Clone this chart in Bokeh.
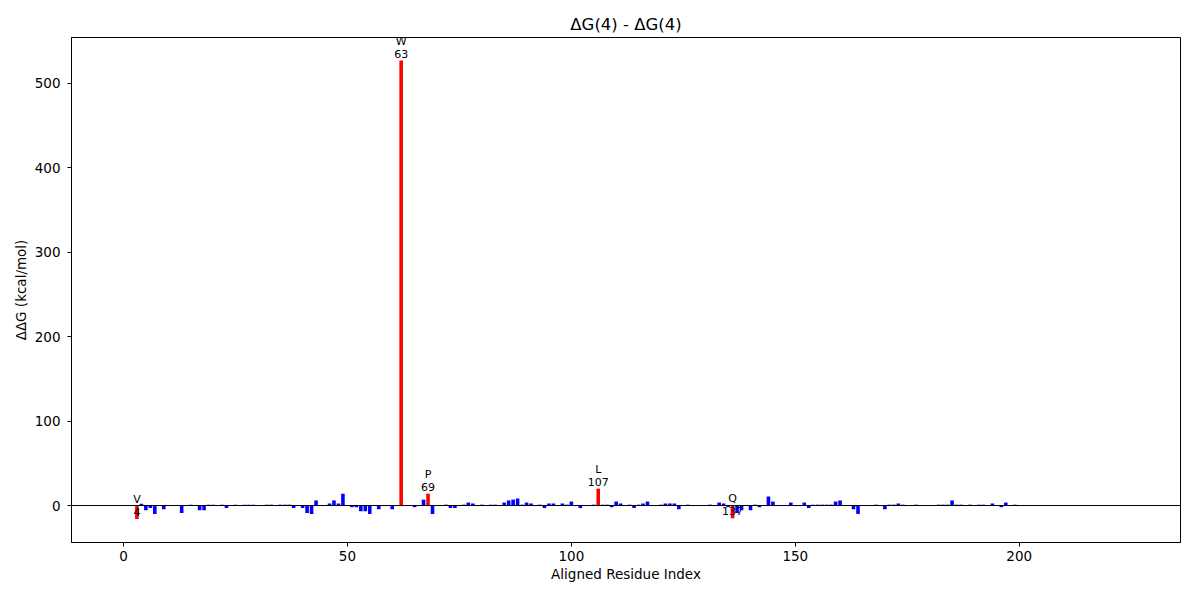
from bokeh.plotting import figure
from bokeh.models import ColumnDataSource, FixedTicker, Span, Range1d
from bokeh.embed import file_html
from bokeh.resources import INLINE
from bokeh.core.properties import value

# ---------------- data ----------------
ddg_values = [
    0, 0, 0, -16, 2, -5.5, -3, -10, 0, -4.3,          # 0-9
    0, 0, 0, -9, 0, 1, 0, -5.5, -5.5, 1,              # 10-19
    1, 0, 1, -3, 0, 1, 0, 1, 1, 1,                    # 20-29
    0, 0, 1, 1, 0, 1, 1, 1, -3, 0,                    # 30-39
    -3, -9, -10, 6, 0, 0, 2.4, 6, 2.4, 14,            # 40-49
    0, -2, -2, -6.7, -6.7, -10, 0, -4.3, 0, 0,        # 50-59
    -4.3, 0, 527, 0, 0, -2, 0, 7, 14, -10,            # 60-69
    0, 0, 1, -3, -3, 0, 1, 3.5, 2.4, 0,               # 70-79
    1, 0, 1, 1, 0, 3.5, 6, 7, 8.3, 1,                 # 80-89
    3.5, 2.4, 0, 1, -3, 2.4, 2.4, 0, 2.4, 1,          # 90-99
    4.7, 0, -3, 0, 0, 1, 20, 1, 1, -2,                # 100-109
    4.7, 2.4, 0, 1, -3, 1, 2.4, 4.7, 0, 0,            # 110-119
    1, 2.4, 2.4, 2.4, -4.3, 0, 1, 0, 0, 0,            # 120-129
    0, 1, 0, 3.5, 2.4, -2, -15, -9, -5.5, 0,          # 130-139
    -5.5, 1, -2, 0, 10.7, 4.7, 0, 0, 0, 3.5,          # 140-149
    0, 0, 3.5, -3, 1, 1, 1, 1, 1, 4.7,                # 150-159
    6, 0, 0, -4.3, -10, 0, 0, 0, 1, 0,                # 160-169
    -4.3, 1, 1, 2.4, 1, 0, 0, 1, 0, 0,                # 170-179
    0, 0, 1, 1, 1, 6, 1, 1, 0, 1,                     # 180-189
    0, 1, 1, 0, 2.4, 0, -2, 3.5, 0, 1,                # 190-199
    0, 0, 0, 0, 0, 0, 0, 0, 0, 0,                     # 200-209
    0, 0, 0, 0, 0, 0, 0, 0, 0, 0,                     # 210-219
    0, 0, 0, 0, 0,                                    # 220-224
]
residue_index = list(range(len(ddg_values)))

highlight_index = [3, 62, 68, 106, 136]
highlight_residue = ["V", "W", "P", "L", "Q"]
highlight_number = [4, 63, 69, 107, 137]

x_ticks = [0, 50, 100, 150, 200]
y_ticks = [0, 100, 200, 300, 400, 500]

# ---------------- figure ----------------
FONT = "DejaVu Sans"
colors = ["#ff0000" if i in highlight_index else "#0000ff" for i in residue_index]
bar_src = ColumnDataSource(dict(x=residue_index, top=ddg_values, color=colors))

p = figure(width=1184, height=584, output_backend="svg", toolbar_location=None,
           title="ΔG(4) - ΔG(4)",
           x_range=Range1d(-11.6, 236.0), y_range=Range1d(-43.8, 554.3),
           min_border_left=71, min_border_right=4, min_border_top=37, min_border_bottom=42)

p.vbar(x="x", top="top", bottom=0, width=0.8, fill_color="color", line_color=None, source=bar_src)

p.add_layout(Span(location=0, dimension="width", line_color="black", line_width=1))

lbl_x = highlight_index
lbl_y = [ddg_values[i] for i in highlight_index]
lbl_t = [f"{r}\n{n}" for r, n in zip(highlight_residue, highlight_number)]
lbl_src = ColumnDataSource(dict(x=lbl_x, y=lbl_y, t=lbl_t))
p.text(x="x", y="y", text="t", source=lbl_src, text_align="center", text_baseline="bottom",
       text_font=value(FONT), text_font_size="11px", text_color="black", text_line_height=1.0)

p.title.align = "center"
p.title.text_font = FONT
p.title.text_font_size = "16.5px"
p.title.text_font_style = "normal"
p.title.text_color = "black"
p.title.standoff = 8

p.grid.visible = False
p.outline_line_color = "black"
p.outline_line_width = 1
p.background_fill_color = "white"
p.border_fill_color = "white"

p.xaxis.ticker = FixedTicker(ticks=x_ticks)
p.yaxis.ticker = FixedTicker(ticks=y_ticks)
p.xaxis.axis_label = "Aligned Residue Index"
p.yaxis.axis_label = "ΔΔG (kcal/mol)"

for ax in (p.xaxis[0], p.yaxis[0]):
    ax.axis_line_color = "black"
    ax.major_tick_line_color = "black"
    ax.major_tick_out = 4
    ax.major_tick_in = 0
    ax.minor_tick_line_color = None
    ax.major_label_text_font = FONT
    ax.major_label_text_font_size = "13.5px"
    ax.major_label_text_color = "black"
    ax.axis_label_text_font = FONT
    ax.axis_label_text_font_size = "13.5px"
    ax.axis_label_text_font_style = "normal"
    ax.axis_label_text_color = "black"

p.xaxis.major_label_standoff = 4
p.xaxis.axis_label_standoff = 2
p.yaxis.major_label_standoff = 7
p.yaxis.axis_label_standoff = 3

open("out.html", "w").write(file_html(p, INLINE))
